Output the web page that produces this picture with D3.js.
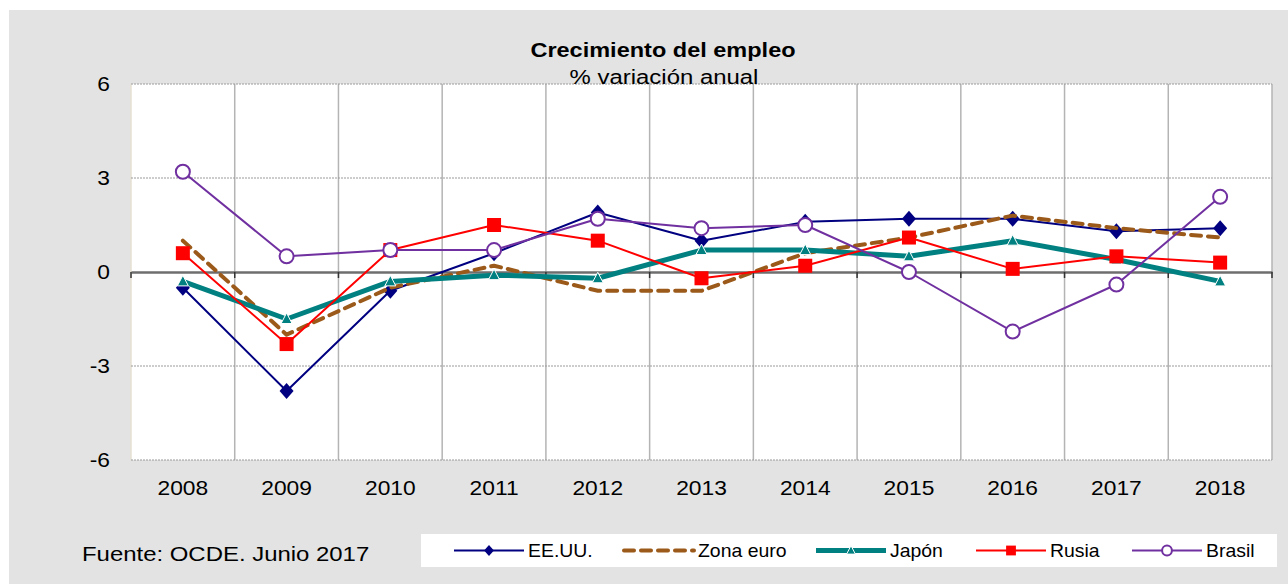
<!DOCTYPE html>
<html><head><meta charset="utf-8">
<script src="https://cdn.jsdelivr.net/npm/d3@7"></script>
<style>body{margin:0;background:#fff}svg{display:block;font-family:"Liberation Sans",Arial,sans-serif}</style>
</head><body>
<svg id="c" width="1288" height="584"></svg>
<script>
const years = ["2008","2009","2010","2011","2012","2013","2014","2015","2016","2017","2018"];
const eeuu     = [-0.5,-3.8,-0.6, 0.6, 1.9, 1.0, 1.6, 1.7, 1.7, 1.3, 1.4];
const zonaEuro = [ 1.0,-2.0,-0.5, 0.2,-0.6,-0.6, 0.6, 1.1, 1.8, 1.4, 1.1];
const japon    = [-0.3,-1.5,-0.3,-0.1,-0.2, 0.7, 0.7, 0.5, 1.0, 0.4,-0.3];
const rusia    = [ 0.6,-2.3, 0.7, 1.5, 1.0,-0.2, 0.2, 1.1, 0.1, 0.5, 0.3];
const brasil   = [ 3.2, 0.5, 0.7, 0.7, 1.7, 1.4, 1.5, 0.0,-1.9,-0.4, 2.4];
const yTicks = [-6,-3,0,3,6];
const seriesNames = ["EE.UU.","Zona euro","Japón","Rusia","Brasil"];

const series = [
  {name:seriesNames[0], values:eeuu, color:"#000080", width:2, marker:"diamond"},
  {name:seriesNames[1], values:zonaEuro, color:"#9b5a1a", width:4, dash:"10,7", marker:null},
  {name:seriesNames[2], values:japon, color:"#008080", width:5, marker:"triangle"},
  {name:seriesNames[3], values:rusia, color:"#ff0000", width:2, marker:"square"},
  {name:seriesNames[4], values:brasil, color:"#7030a0", width:2, marker:"circle"}
];

const svg = d3.select("#c");
const L=131, R=1272, T=84, B=460;
const SX = 1.14;
function txt(g, x0, y0, str, size, anchor, opts={}){
  const t = g.append("text").attr("transform",`translate(${x0},${y0}) scale(${opts.sx||SX},1)`)
    .attr("font-size",size).attr("text-anchor",anchor||"start").attr("fill","#000").text(str);
  if(opts.dy) t.attr("dy",opts.dy);
  if(opts.bold) t.attr("font-weight","bold");
  return t;
}

svg.append("rect").attr("x",9).attr("y",10).attr("width",1279).attr("height",574).attr("fill","#e3e3e3");
svg.append("rect").attr("x",L).attr("y",T).attr("width",R-L).attr("height",B-T).attr("fill","#fff");

const x = d3.scaleBand().domain(years).range([L,R]);
const y = d3.scaleLinear().domain([-6,6]).range([B,T]);

const bounds = years.map(d=>x(d)).concat([R]);
svg.append("g").selectAll("line").data(bounds.slice(1,-1)).join("line")
  .attr("x1",d=>d).attr("x2",d=>d).attr("y1",T).attr("y2",B)
  .attr("stroke","#b4b4b4").attr("stroke-width",1.5);
svg.append("line").attr("x1",R).attr("x2",R).attr("y1",T).attr("y2",B).attr("stroke","#b4b4b4").attr("stroke-width",1.5);
svg.append("line").attr("x1",L).attr("x2",L).attr("y1",T).attr("y2",B).attr("stroke","#e6e0d2").attr("stroke-width",1.5);
svg.append("g").selectAll("line").data(yTicks.filter(d=>d!==0)).join("line")
  .attr("x1",L).attr("x2",R).attr("y1",d=>y(d)).attr("y2",d=>y(d))
  .attr("stroke","#9a9a9a").attr("stroke-width",1).attr("stroke-dasharray","2,1");

const gy = svg.append("g");
yTicks.forEach(d=>txt(gy,110,y(d),d,20,"end",{dy:"0.35em"}));

const xAxis = d3.axisBottom(x).tickSize(0).tickFormat("");
const gx = svg.append("g").attr("transform",`translate(0,${y(0)})`).call(xAxis);
gx.select(".domain").attr("stroke","#6e6e6e").attr("stroke-width",2.5);
svg.append("g").selectAll("line").data(bounds).join("line")
  .attr("x1",d=>d).attr("x2",d=>d).attr("y1",y(0)).attr("y2",y(0)+6)
  .attr("stroke","#333").attr("stroke-width",1.5);

const gxl = svg.append("g");
years.forEach(d=>txt(gxl,x(d)+x.bandwidth()/2,488,d,20,"middle",{dy:"0.35em"}));

function drawMarker(g, type, cx, cy, s, color){
  if(type==="diamond"){
    g.append("path").attr("d",`M${cx},${cy-8*s}L${cx+7*s},${cy}L${cx},${cy+8*s}L${cx-7*s},${cy}Z`).attr("fill",color);
  } else if(type==="square"){
    g.append("rect").attr("x",cx-7*s).attr("y",cy-7*s).attr("width",14*s).attr("height",14*s).attr("fill",color);
  } else if(type==="triangle"){
    g.append("path").attr("d",`M${cx},${cy-6*s}L${cx+5.5*s},${cy+4.5*s}L${cx-5.5*s},${cy+4.5*s}Z`).attr("fill",color).attr("stroke","#fff").attr("stroke-width",1);
  } else if(type==="circle"){
    g.append("circle").attr("cx",cx).attr("cy",cy).attr("r",7*s).attr("fill","#fff").attr("stroke",color).attr("stroke-width",2);
  }
}

const line = d3.line().x((d,i)=>x(years[i])+x.bandwidth()/2).y(d=>y(d));
series.forEach(s=>{
  const g = svg.append("g");
  g.append("path").attr("d",line(s.values)).attr("fill","none").attr("stroke",s.color)
    .attr("stroke-width",s.width).attr("stroke-linejoin","round")
    .attr("stroke-linecap",s.dash?"round":"butt")
    .attr("stroke-dasharray",s.dash||null);
  if(s.marker){
    s.values.forEach((v,i)=>drawMarker(g,s.marker,x(years[i])+x.bandwidth()/2,y(v),1,s.color));
  }
});

txt(svg,663,57,"Crecimiento del empleo",21,"middle",{bold:true,sx:1.12});
txt(svg,664,84,"% variación anual",21,"middle");
txt(svg,82,561,"Fuente: OCDE. Junio 2017",21,"start");

svg.append("rect").attr("x",421).attr("y",534).attr("width",856).attr("height",33).attr("fill","#fff");
const legX = [454,624,816,976,1132];
series.forEach((s,i)=>{
  const g = svg.append("g");
  const x0 = legX[i], x1 = x0+70, cy = 550.5;
  g.append("line").attr("x1",x0).attr("x2",x1).attr("y1",cy).attr("y2",cy).attr("stroke",s.color)
    .attr("stroke-width",s.width).attr("stroke-dasharray",s.dash||null).attr("stroke-linecap",s.dash?"round":"butt");
  if(s.marker) drawMarker(g,s.marker,(x0+x1)/2,cy,s.marker==="triangle"?0.8:0.7,s.color);
  txt(g,x1+4,cy,s.name,18,"start",{dy:"0.35em",sx:1.08});
});
</script>
</body></html>
